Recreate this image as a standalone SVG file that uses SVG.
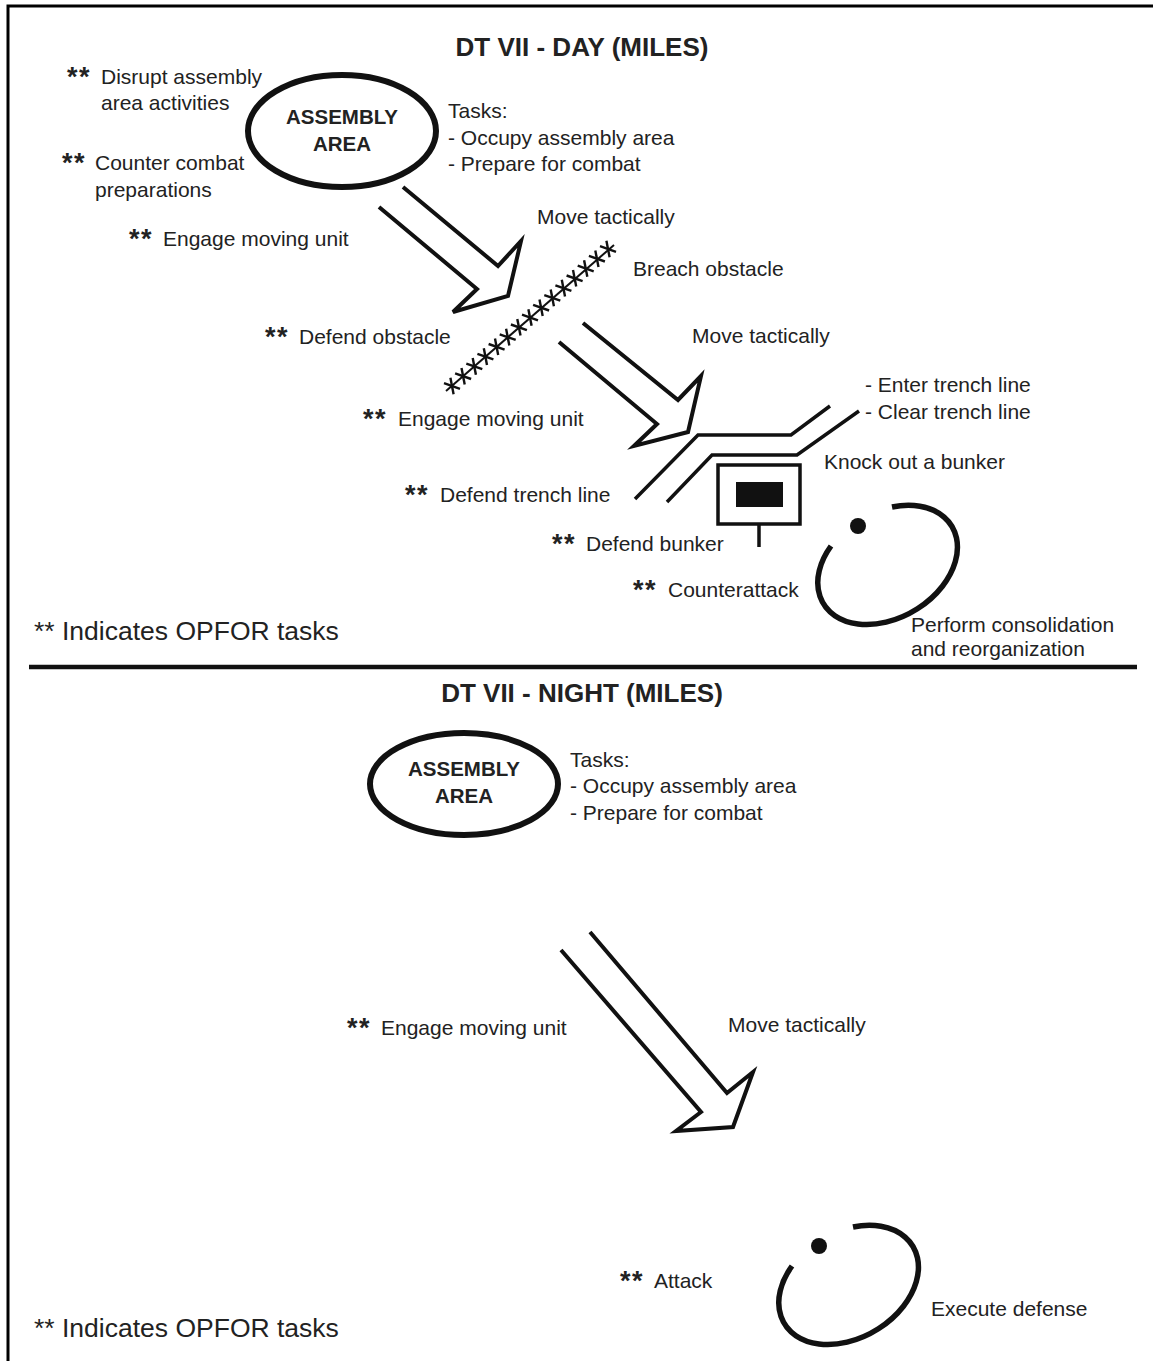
<svg xmlns="http://www.w3.org/2000/svg" xmlns:xlink="http://www.w3.org/1999/xlink" width="1153" height="1361" viewBox="0 0 1153 1361">
<style>
text{font-family:"Liberation Sans",Arial,sans-serif;fill:#222;}
.t{font-size:21px;}
.s{font-size:27px;font-weight:bold;letter-spacing:1.5px;}
.h{font-size:26px;font-weight:bold;text-anchor:middle;}
.aa{font-size:20.5px;font-weight:bold;text-anchor:middle;}
.note{font-size:26.5px;}
.ln{fill:none;stroke:#111;stroke-width:4;stroke-linejoin:miter;}
.tr{fill:none;stroke:#111;stroke-width:3.5;}
.ell{fill:none;stroke:#111;stroke-width:6;}
.arc{fill:none;stroke:#111;stroke-width:5.5;}
</style>
<defs>
<g id="ast"><line x1="-8" y1="-2.8" x2="8" y2="2.8" stroke="#111" stroke-width="2.4"/><line x1="-1.6" y1="-8.3" x2="1.6" y2="8.3" stroke="#111" stroke-width="2.4"/></g>
</defs>
<rect width="1153" height="1361" fill="#fff"/>
<path d="M8 1361 V6 H1153" fill="none" stroke="#000" stroke-width="3"/>

<g id="day">
<text class="h" x="582" y="56">DT VII - DAY (MILES)</text>
<g id="aa1">
<ellipse class="ell" cx="342" cy="131" rx="94" ry="56"/>
<text class="aa" x="342" y="124">ASSEMBLY</text>
<text class="aa" x="342" y="151">AREA</text>
</g>
<g id="tasks1">
<text class="t" x="448" y="118">Tasks:</text>
<text class="t" x="448" y="145">- Occupy assembly area</text>
<text class="t" x="448" y="171">- Prepare for combat</text>
</g>
<g id="opfor1">
<text class="t" x="67" y="86"><tspan class="s">**</tspan><tspan x="101" y="84">Disrupt assembly</tspan></text>
<text class="t" x="101" y="110">area activities</text>
<text class="t" x="62" y="172"><tspan class="s">**</tspan><tspan x="95" y="170">Counter combat</tspan></text>
<text class="t" x="95" y="197">preparations</text>
<text class="t" x="129" y="248"><tspan class="s">**</tspan><tspan x="163" y="246">Engage moving unit</tspan></text>
</g>
<text class="t" x="537" y="224">Move tactically</text>
<g id="obstacle">
<line x1="446" y1="391" x2="614" y2="245" stroke="#111" stroke-width="2"/>
<use xlink:href="#ast" x="452" y="386"/><use xlink:href="#ast" x="463.1" y="376.2"/><use xlink:href="#ast" x="474.3" y="366.4"/><use xlink:href="#ast" x="485.4" y="356.6"/><use xlink:href="#ast" x="496.6" y="346.8"/><use xlink:href="#ast" x="507.7" y="337.1"/><use xlink:href="#ast" x="518.9" y="327.3"/><use xlink:href="#ast" x="530" y="317.5"/><use xlink:href="#ast" x="541.1" y="307.7"/><use xlink:href="#ast" x="552.3" y="297.9"/><use xlink:href="#ast" x="563.4" y="288.1"/><use xlink:href="#ast" x="574.6" y="278.3"/><use xlink:href="#ast" x="585.7" y="268.5"/><use xlink:href="#ast" x="596.9" y="258.7"/><use xlink:href="#ast" x="608" y="249"/>
<text class="t" x="633" y="276">Breach obstacle</text>
<text class="t" x="265" y="346"><tspan class="s">**</tspan><tspan x="299" y="344">Defend obstacle</tspan></text>
</g>
<text class="t" x="692" y="343">Move tactically</text>
<text class="t" x="363" y="428"><tspan class="s">**</tspan><tspan x="398" y="426">Engage moving unit</tspan></text>
<g id="trench">
<polyline class="tr" points="635,499 698,435 791,435 830,406"/>
<polyline class="tr" points="667,502 712,455 797,455 859,411"/>
<text class="t" x="865" y="392">- Enter trench line</text>
<text class="t" x="865" y="419">- Clear trench line</text>
<text class="t" x="405" y="504"><tspan class="s">**</tspan><tspan x="440" y="502">Defend trench line</tspan></text>
</g>
<g id="bunker">
<rect x="718" y="465" width="82" height="59" fill="none" stroke="#111" stroke-width="3.5"/>
<rect x="736" y="482" width="47" height="25" fill="#111"/>
<line x1="759" y1="524" x2="759" y2="547" stroke="#111" stroke-width="3.5"/>
<text class="t" x="824" y="469">Knock out a bunker</text>
<text class="t" x="552" y="553"><tspan class="s">**</tspan><tspan x="586" y="551">Defend bunker</tspan></text>
</g>
<g id="consolidation">
<path class="arc" d="M892 507 A75 53 -31 1 1 831 546"/>
<circle cx="858" cy="526" r="8" fill="#111"/>
<text class="t" x="633" y="599"><tspan class="s">**</tspan><tspan x="668" y="597">Counterattack</tspan></text>
<text class="t" x="911" y="632">Perform consolidation</text>
<text class="t" x="911" y="656">and reorganization</text>
</g>
<text class="note" x="34" y="640">** Indicates OPFOR tasks</text>
</g>

<line x1="29" y1="667" x2="1137" y2="667" stroke="#111" stroke-width="4.5"/>

<g id="night">
<text class="h" x="582" y="702">DT VII - NIGHT (MILES)</text>
<g id="aa2">
<ellipse class="ell" cx="464" cy="784" rx="94" ry="51"/>
<text class="aa" x="464" y="776">ASSEMBLY</text>
<text class="aa" x="464" y="803">AREA</text>
</g>
<g id="tasks2">
<text class="t" x="570" y="767">Tasks:</text>
<text class="t" x="570" y="793">- Occupy assembly area</text>
<text class="t" x="570" y="820">- Prepare for combat</text>
</g>
<text class="t" x="347" y="1037"><tspan class="s">**</tspan><tspan x="381" y="1035">Engage moving unit</tspan></text>
<text class="t" x="728" y="1032">Move tactically</text>
<g id="defense">
<path class="arc" d="M853 1227 A75 53 -31 1 1 792 1266"/>
<circle cx="819" cy="1246" r="8" fill="#111"/>
<text class="t" x="620" y="1290"><tspan class="s">**</tspan><tspan x="654" y="1288">Attack</tspan></text>
<text class="t" x="931" y="1316">Execute defense</text>
</g>
<text class="note" x="34" y="1337">** Indicates OPFOR tasks</text>
</g>

<g id="connectors">
<polyline class="ln" points="379,207 477,289 453,312 508,296 521,241 498,266 403,187"/>
<polyline class="ln" points="559,342 657,424 634,446 688,432 701,376 678,400 583,323"/>
<polyline class="ln" points="561,950 701,1112 676,1131 733,1127 753,1072 727,1093 590,932"/>
</g>
</svg>
